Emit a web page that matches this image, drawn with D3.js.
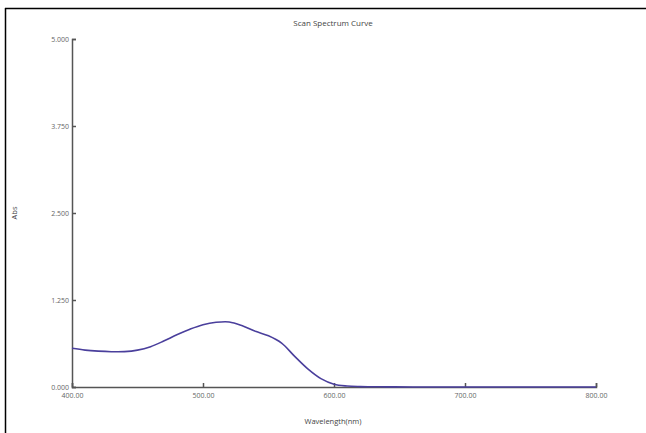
<!DOCTYPE html>
<html>
<head>
<meta charset="utf-8">
<script src="https://cdn.jsdelivr.net/npm/d3@7"></script>
<style>
  body { margin: 0; background: #fff; }
  text { font-family: "Open Sans", "DejaVu Sans", sans-serif; }
</style>
</head>
<body>
<svg id="chart"></svg>
<script>
const width = 646;
const height = 433;

// wavelength (nm) and absorbance
const wavelengths = [400, 410, 420, 430, 440, 450, 460, 470, 480, 490, 500, 510, 520, 530, 540, 550, 560, 570, 580, 590, 600, 610, 620, 640, 660, 700, 750, 800];
const absorbance = [0.556, 0.53, 0.515, 0.507, 0.508, 0.53, 0.58, 0.66, 0.75, 0.83, 0.895, 0.93, 0.935, 0.88, 0.8, 0.735, 0.63, 0.44, 0.26, 0.12, 0.04, 0.014, 0.006, 0.002, 0.0, 0.0, 0.0, 0.0];

const xTicks = [400, 500, 600, 700, 800];
const yTicks = [0, 1.25, 2.5, 3.75, 5];

const margin = { top: 39, right: 50, bottom: 46, left: 72 };

const svg = d3.select("#chart")
    .attr("width", width)
    .attr("height", height);

// frame (only left and top edge visible)
svg.append("line").attr("x1", 5.5).attr("x2", 5.5).attr("y1", 8).attr("y2", height)
    .attr("stroke", "#000").attr("stroke-width", 1.5);
svg.append("line").attr("x1", 5).attr("x2", width).attr("y1", 8.5).attr("y2", 8.5)
    .attr("stroke", "#000").attr("stroke-width", 1.5);

const x = d3.scaleLinear().domain([400, 800]).range([margin.left, width - margin.right]);
const y = d3.scaleLinear().domain([0, 5]).range([height - margin.bottom, margin.top]);

const xAxis = svg.append("g")
    .attr("transform", `translate(0,${height - margin.bottom})`)
    .call(d3.axisBottom(x).tickValues(xTicks).tickSize(-4).tickPadding(6).tickFormat(d3.format(".2f")));

const yAxis = svg.append("g")
    .attr("transform", `translate(${margin.left},0)`)
    .call(d3.axisLeft(y).tickValues(yTicks).tickSize(-4).tickPadding(3).tickFormat(d3.format(".3f")));

[xAxis, yAxis].forEach(g => {
    g.style("color", "#555");
    g.select(".domain").attr("stroke-width", 1.5);
    g.selectAll(".tick line").attr("stroke-width", 1.5);
    g.selectAll(".tick text").style("font-size", "7px").style("fill", "#666");
});

const line = d3.line()
    .x((d, i) => x(wavelengths[i]))
    .y(d => y(d))
    .curve(d3.curveCatmullRom.alpha(0.5));

svg.append("path")
    .datum(absorbance)
    .attr("d", line)
    .attr("fill", "none")
    .attr("stroke", "#4a3f9c")
    .attr("stroke-width", 1.6);

svg.append("text")
    .attr("x", 333).attr("y", 26)
    .attr("text-anchor", "middle")
    .style("font-size", "8px")
    .style("fill", "#444")
    .text("Scan Spectrum Curve");

svg.append("text")
    .attr("x", 333).attr("y", 424)
    .attr("text-anchor", "middle")
    .style("font-size", "7.5px")
    .style("fill", "#444")
    .text("Wavelength(nm)");

svg.append("text")
    .attr("transform", "translate(17,213) rotate(-90)")
    .attr("text-anchor", "middle")
    .style("font-size", "7.5px")
    .style("fill", "#444")
    .text("Abs");
</script>
</body>
</html>
